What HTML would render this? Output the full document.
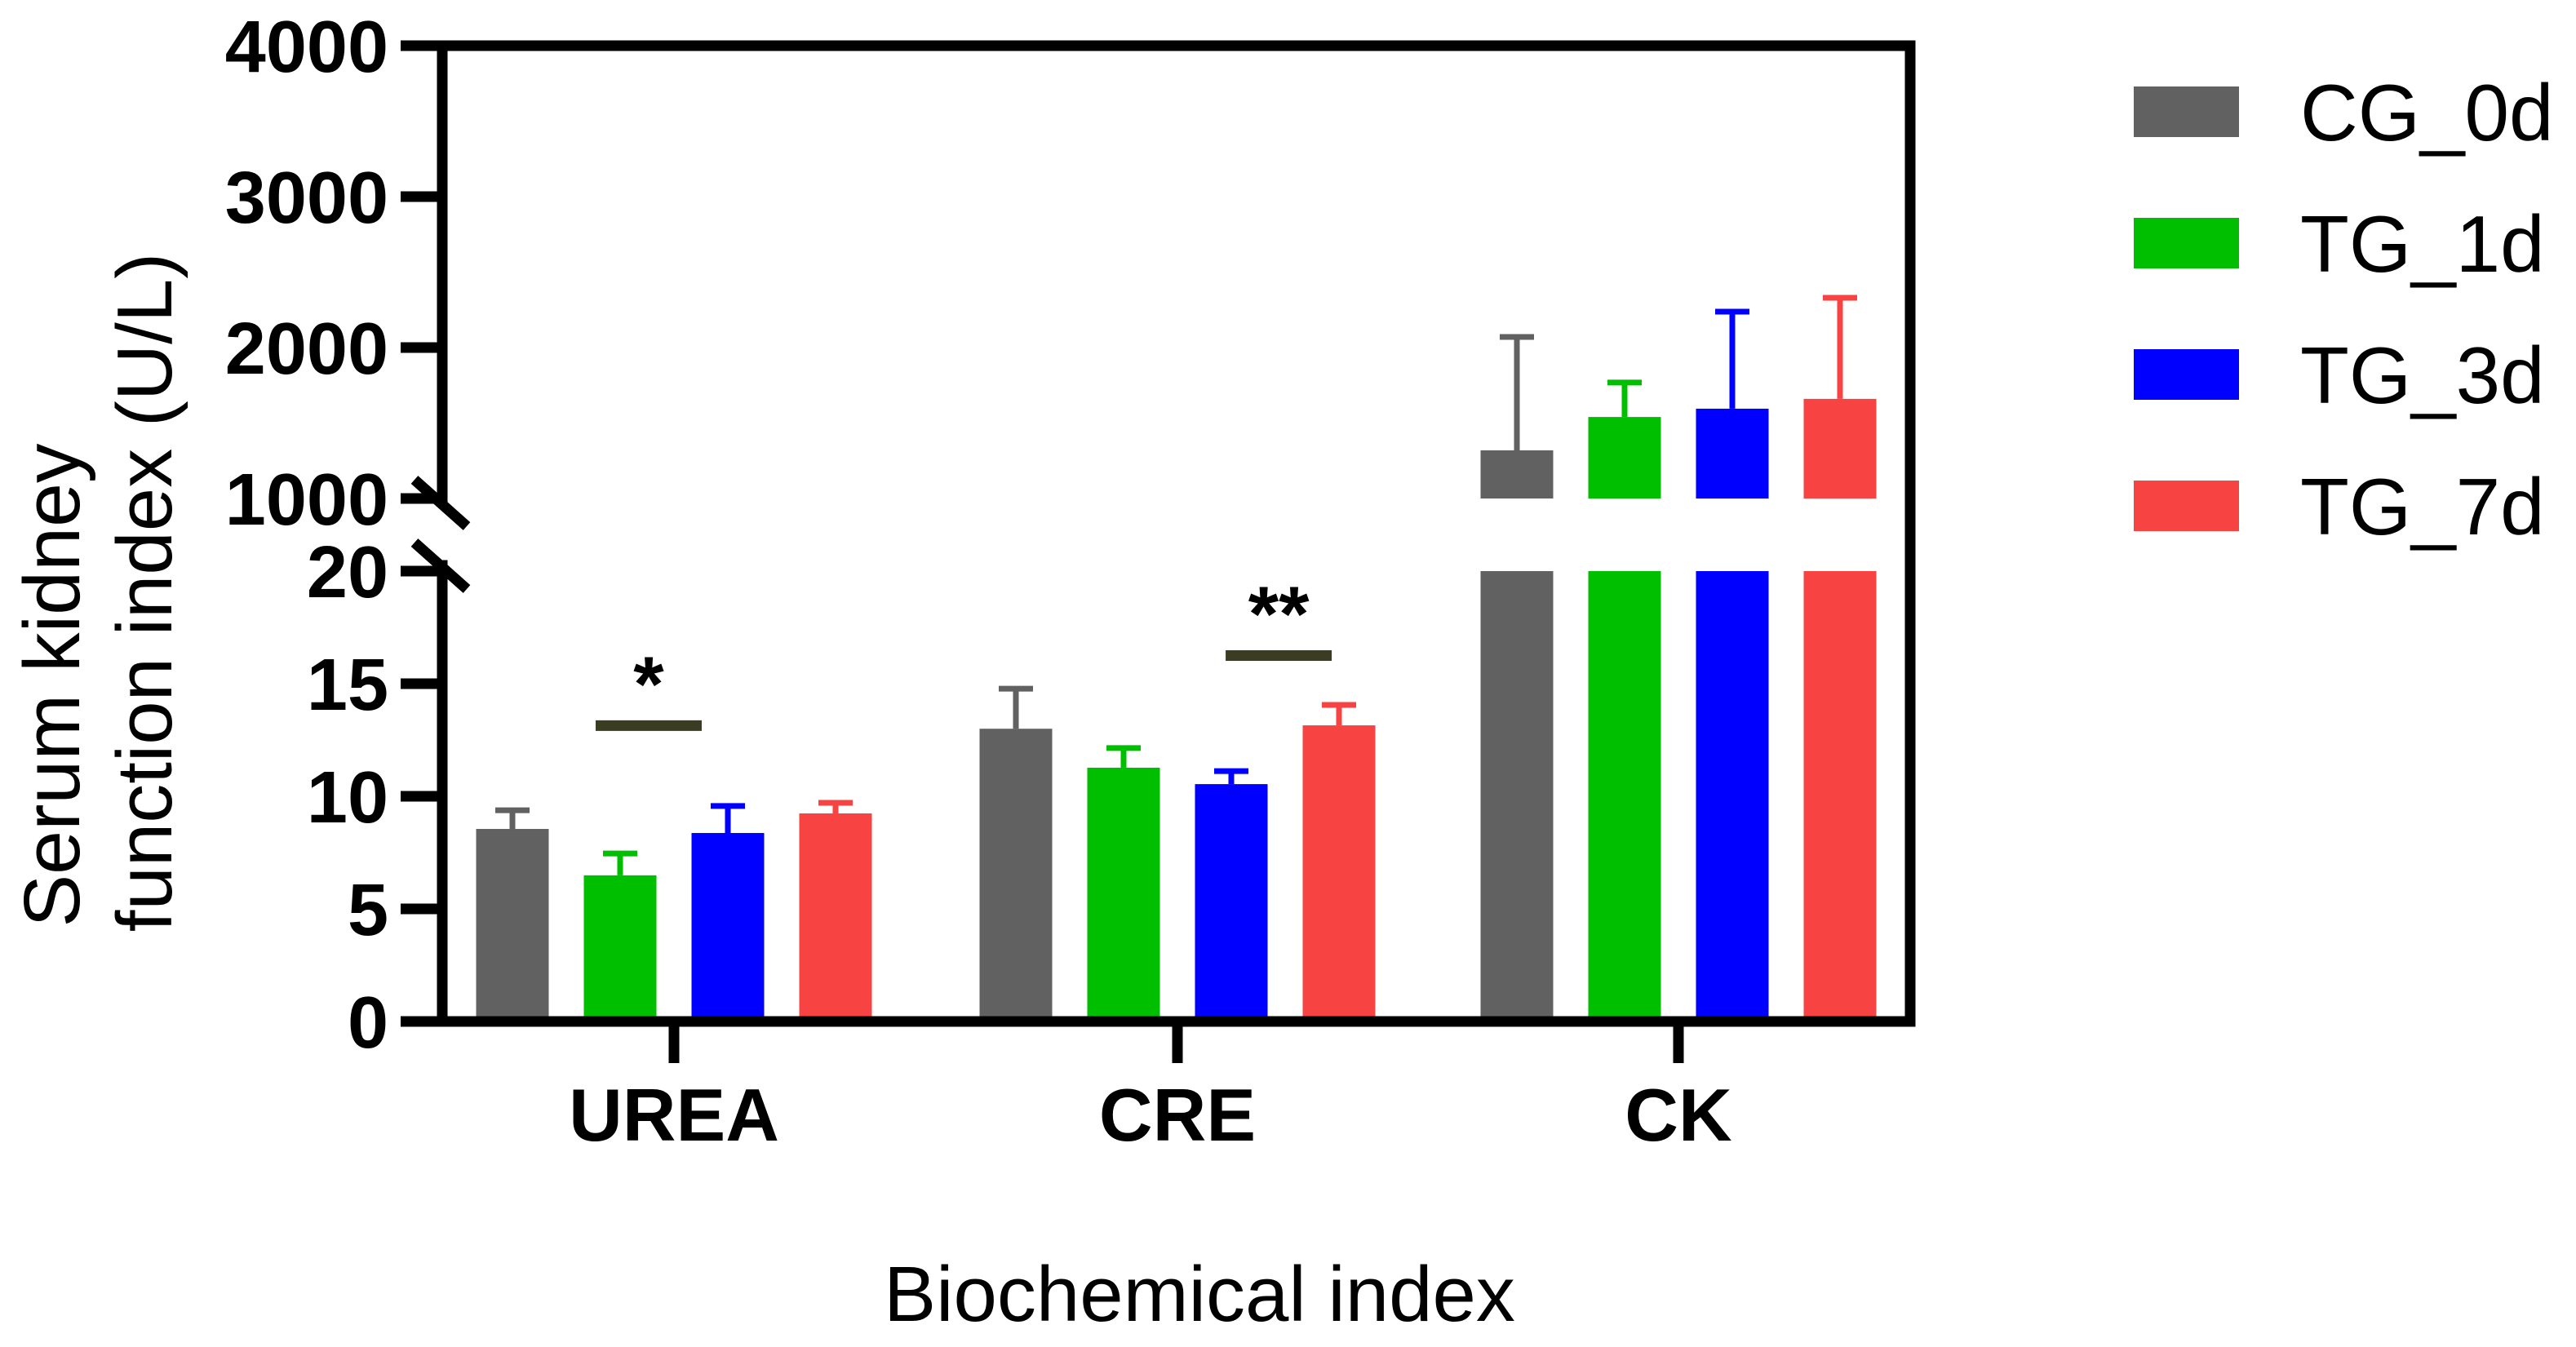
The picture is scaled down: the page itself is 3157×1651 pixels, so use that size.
<!DOCTYPE html>
<html><head><meta charset="utf-8"><style>
html,body{margin:0;padding:0;background:#fff;}
svg{display:block;font-family:"Liberation Sans",Arial,sans-serif;}
</style></head><body>
<svg id="chart" width="3157" height="1651" viewBox="0 0 3157 1651"></svg>
<script>
const categories = ["UREA", "CRE", "CK"];
const seriesNames = ["CG_0d", "TG_1d", "TG_3d", "TG_7d"];
const seriesColors = ["#616161", "#00bf00", "#0000ff", "#f84343"];
const meanCG0 = [8.55, 13.0, 1319];
const meanTG1 = [6.49, 11.27, 1540];
const meanTG3 = [8.37, 10.54, 1595];
const meanTG7 = [9.24, 13.15, 1660];
const errTopCG0 = [9.38, 14.78, 2070];
const errTopTG1 = [7.46, 12.14, 1768];
const errTopTG3 = [9.57, 11.12, 2238];
const errTopTG7 = [9.71, 14.06, 2330];
const lowerTicks = [0, 5, 10, 15, 20];
const upperTicks = [1000, 2000, 3000, 4000];
const sigLevels = [13.14, 16.25];
const sigLabels = ["*", "**"];
const sigCategory = [0, 1];
const sigCenterSeries = [1.265, 2.44];

const NS = "http://www.w3.org/2000/svg";
const svg = document.getElementById("chart");
function mk(tag, attrs, parent) {
  const e = document.createElementNS(NS, tag);
  for (const k in attrs) e.setAttribute(k, attrs[k]);
  (parent || svg).appendChild(e);
  return e;
}
const X0 = 542, XR = 2341, YTOP = 56, Y1000 = 611, Y20 = 700, Y0 = 1252;
function yLow(v) { return Y0 - (Y0 - Y20) * v / 20; }
function yUp(v) { return Y1000 - (Y1000 - YTOP) * (v - 1000) / 3000; }
function yVal(v, ci) { return ci === 2 ? yUp(v) : yLow(v); }
const groupCenters = [826, 1443, 2057];
const SP = 132;
function xBar(ci, si) { return groupCenters[ci] + (si - 1.5) * SP; }
const BW = 89;

const means = [meanCG0, meanTG1, meanTG3, meanTG7];
const errs = [errTopCG0, errTopTG1, errTopTG3, errTopTG7];

for (let ci = 0; ci < categories.length; ci++) {
  for (let si = 0; si < seriesNames.length; si++) {
    const cx = xBar(ci, si), col = seriesColors[si];
    const m = means[si][ci], e = errs[si][ci];
    const eg = mk("g", {});
    
    
    mk("line", {x1: cx, x2: cx, y1: yVal(m, ci), y2: yVal(e, ci), stroke: col, "stroke-width": 7}, eg);
    mk("line", {x1: cx - 21, x2: cx + 21, y1: yVal(e, ci), y2: yVal(e, ci), stroke: col, "stroke-width": 7}, eg);
    if (ci === 2) {
      const r1 = mk("rect", {x: cx - BW / 2, y: yUp(m), width: BW, height: yUp(1000) - yUp(m), fill: col});
      
      
      const r2 = mk("rect", {x: cx - BW / 2, y: yLow(20), width: BW, height: yLow(0) - yLow(20), fill: col});
      
      
    } else {
      const r = mk("rect", {x: cx - BW / 2, y: yLow(m), width: BW, height: yLow(0) - yLow(m), fill: col});
      
      
    }
  }
}

for (let k = 0; k < sigLevels.length; k++) {
  const ci = sigCategory[k];
  const c = xBar(ci, sigCenterSeries[k]);
  const xa = c - 65, xb = c + 65;
  const y = yLow(sigLevels[k]);
  const l = mk("line", {x1: xa, x2: xb, y1: y, y2: y, stroke: "#3a3d22", "stroke-width": 13});
  
  
  const t = mk("text", {x: c, y: y - 18, "text-anchor": "middle", "font-size": 96, "font-weight": "bold", fill: "#000"});
  t.textContent = sigLabels[k];
  
  
}

const ax = mk("g", {stroke: "#000", "stroke-width": 13, fill: "none"});


mk("polyline", {points: `${X0},${Y1000+1} ${X0},${YTOP} ${XR},${YTOP} ${XR},${Y0} ${X0},${Y0} ${X0},693`, "stroke-linejoin": "miter", "stroke-linecap": "square"}, ax);
mk("line", {x1: 508, y1: 588, x2: 572, y2: 645}, ax);
mk("line", {x1: 508, y1: 665, x2: 572, y2: 722}, ax);
function yTick(y, label) {
  mk("line", {x1: 491, x2: X0, y1: y, y2: y}, ax);
  const t = mk("text", {x: 476, y: y + 32, "text-anchor": "end", "font-size": 90, "font-weight": "bold", fill: "#000", stroke: "none"});
  t.textContent = label;
  
  
}
lowerTicks.forEach(v => yTick(yLow(v), v));
upperTicks.forEach(v => yTick(yUp(v), v));
categories.forEach((c, i) => {
  mk("line", {x1: groupCenters[i], x2: groupCenters[i], y1: Y0, y2: 1303}, ax);
  const t = mk("text", {x: groupCenters[i], y: 1398, "text-anchor": "middle", "font-size": 91, "font-weight": "bold", fill: "#000", stroke: "none"});
  t.textContent = c;
  
  
});

seriesNames.forEach((n, i) => {
  const g = mk("g", {});
  
  
  mk("rect", {x: 2615, y: 106 + i * 161, width: 129, height: 62, fill: seriesColors[i]}, g);
  const t = mk("text", {x: 2819, y: 172 + i * 161, "font-size": 98, fill: "#000"}, g);
  t.textContent = n;
});
</script>
<svg style="position:absolute;left:0;top:0" width="3157" height="1651">
  <text transform="translate(97,840) rotate(-90)" text-anchor="middle" font-family="Liberation Sans, sans-serif" font-size="97">Serum kidney</text>
  <text transform="translate(210,726) rotate(-90)" text-anchor="middle" font-family="Liberation Sans, sans-serif" font-size="96">function index (U/L)</text>
  <text x="1470" y="1619" text-anchor="middle" font-family="Liberation Sans, sans-serif" font-size="96">Biochemical index</text>
</svg>
</body></html>
